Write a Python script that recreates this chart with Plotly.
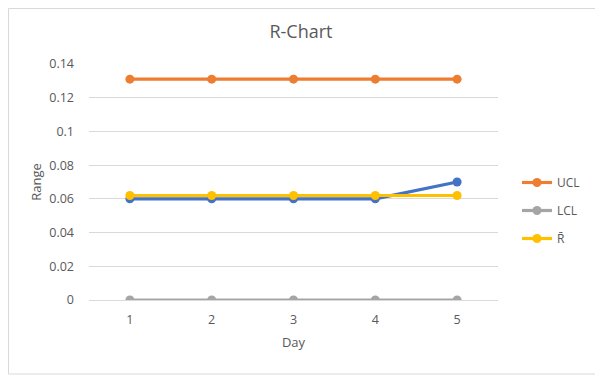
import plotly.graph_objects as go

days = ["1", "2", "3", "4", "5"]
range_vals = [0.06, 0.06, 0.06, 0.06, 0.07]
ucl_vals = [0.131, 0.131, 0.131, 0.131, 0.131]
lcl_vals = [0, 0, 0, 0, 0]
rbar_vals = [0.062, 0.062, 0.062, 0.062, 0.062]
y_ticks = [0, 0.02, 0.04, 0.06, 0.08, 0.1, 0.12, 0.14]
y_tick_labels = ["0", "0.02", "0.04", "0.06", "0.08", "0.1", "0.12", "0.14"]

OFF = 8  # page body margin
W, H = 603 - OFF, 378 - OFF
L, T = 89 - OFF, 64 - OFF
R = 603 - 498
B = 378 - 300
pw, ph = W - L - R, H - T - B

font_family = "Open Sans, sans-serif"
txt = "#595959"

fig = go.Figure()
series = [
    ("Range", range_vals, "#4472C4", False),
    ("UCL", ucl_vals, "#ED7D31", True),
    ("LCL", lcl_vals, "#A5A5A5", True),
    ("R\u0304", rbar_vals, "#FFC000", True),
]
for i, (name, vals, col, show) in enumerate(series):
    fig.add_trace(go.Scatter(
        x=days, y=vals, name=name, mode="lines+markers",
        line=dict(color=col, width=3.2),
        marker=dict(color=col, size=9),
        showlegend=show, legendgroup=f"g{i}",
    ))

bx0, bx1 = 0.5, 600 - OFF
by0, by1 = 0.5, 374 - OFF  # top, bottom in figure px

fig.update_layout(
    width=W, height=H,
    margin=dict(l=L, r=R, t=T, b=B),
    paper_bgcolor="white", plot_bgcolor="white",
    font=dict(family=font_family, color=txt, size=12),
    title=dict(text="R-Chart", x=(301 - OFF) / W, xanchor="center", y=1 - (32 - OFF) / H,
               yanchor="middle", font=dict(size=18, color=txt)),
    xaxis=dict(
        type="category", range=[-0.5, 4.5], showgrid=False, zeroline=False,
        showline=True, linecolor="#D9D9D9", ticks="", ticklabelstandoff=8,
        title=dict(text="Day", standoff=10, font=dict(size=13)),
        tickfont=dict(size=12.5),
    ),
    yaxis=dict(
        range=[0, 0.14], tickvals=y_ticks, ticktext=y_tick_labels,
        showgrid=True, gridcolor="#D9D9D9", gridwidth=1, zeroline=False,
        ticks="", ticklabelstandoff=14,
        title=dict(text="Range", standoff=4, font=dict(size=13)),
        tickfont=dict(size=12.5),
    ),
    legend=dict(
        x=(517 - OFF - L) / pw, xanchor="left", y=(300 - 168) / ph, yanchor="top",
        font=dict(size=12), traceorder="grouped", tracegroupgap=9,
        bgcolor="rgba(0,0,0,0)",
    ),
    shapes=[dict(
        type="rect", xref="paper", yref="paper",
        x0=(bx0 - L) / pw, x1=(bx1 - L) / pw,
        y0=(T + ph - by1) / ph, y1=(T + ph - by0) / ph,
        line=dict(color="#D9D9D9", width=1), fillcolor="rgba(0,0,0,0)", layer="below",
    )],
)

fig.write_html("out.html")
